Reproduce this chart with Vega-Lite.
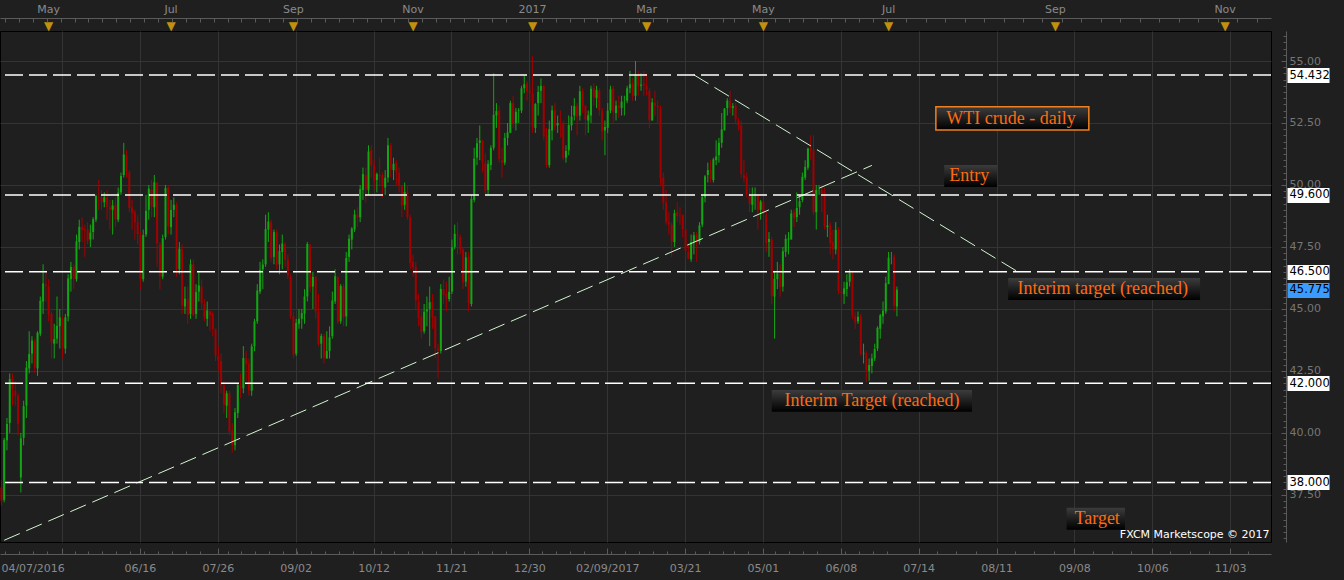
{
"$schema":"https://vega.github.io/schema/vega-lite/v6.json",
"width":1271,"height":511,
"autosize":"none",
"padding":{"left":0,"top":31,"right":73,"bottom":38},
"background":"#1f1f1f",
"config":{"view":{"stroke":"#000000","fill":"#1f1f1f","strokeWidth":1}},
"datasets":{
"candles":[
{"d":"2016-04-07","o":37.8,"h":38.1,"l":37.05,"c":37.26},
{"d":"2016-04-08","o":37.3,"h":39.8,"l":37.2,"c":39.72},
{"d":"2016-04-11","o":39.7,"h":40.6,"l":39.3,"c":40.36},
{"d":"2016-04-12","o":40.4,"h":42.4,"l":40.0,"c":42.17},
{"d":"2016-04-13","o":42.2,"h":42.4,"l":41.1,"c":41.76},
{"d":"2016-04-14","o":41.7,"h":42.1,"l":41.1,"c":41.5},
{"d":"2016-04-15","o":41.5,"h":41.6,"l":39.9,"c":40.36},
{"d":"2016-04-18","o":38.2,"h":40.0,"l":37.6,"c":39.78},
{"d":"2016-04-19","o":39.8,"h":41.3,"l":39.5,"c":41.08},
{"d":"2016-04-20","o":41.1,"h":42.9,"l":40.6,"c":42.63},
{"d":"2016-04-21","o":42.6,"h":44.1,"l":42.4,"c":43.18},
{"d":"2016-04-22","o":43.2,"h":43.9,"l":42.8,"c":43.73},
{"d":"2016-04-25","o":43.7,"h":43.8,"l":42.4,"c":42.64},
{"d":"2016-04-26","o":42.6,"h":44.1,"l":42.3,"c":44.04},
{"d":"2016-04-27","o":44.0,"h":45.5,"l":43.9,"c":45.33},
{"d":"2016-04-28","o":45.3,"h":46.8,"l":44.8,"c":46.03},
{"d":"2016-04-29","o":46.0,"h":46.5,"l":45.3,"c":45.92},
{"d":"2016-05-02","o":45.9,"h":46.2,"l":44.5,"c":44.78},
{"d":"2016-05-03","o":44.8,"h":44.9,"l":43.0,"c":43.65},
{"d":"2016-05-04","o":43.6,"h":44.4,"l":43.0,"c":43.78},
{"d":"2016-05-05","o":43.8,"h":45.5,"l":43.6,"c":44.32},
{"d":"2016-05-06","o":44.3,"h":45.0,"l":43.4,"c":44.66},
{"d":"2016-05-09","o":44.6,"h":44.7,"l":43.0,"c":43.44},
{"d":"2016-05-10","o":43.4,"h":44.8,"l":43.2,"c":44.66},
{"d":"2016-05-11","o":44.7,"h":46.4,"l":44.5,"c":46.23},
{"d":"2016-05-12","o":46.2,"h":46.9,"l":45.7,"c":46.7},
{"d":"2016-05-13","o":46.7,"h":46.8,"l":45.8,"c":46.21},
{"d":"2016-05-16","o":46.2,"h":48.0,"l":46.1,"c":47.72},
{"d":"2016-05-17","o":47.7,"h":48.6,"l":47.4,"c":48.31},
{"d":"2016-05-18","o":48.3,"h":48.7,"l":47.7,"c":48.19},
{"d":"2016-05-19","o":48.2,"h":48.4,"l":47.1,"c":48.16},
{"d":"2016-05-20","o":48.2,"h":48.5,"l":47.6,"c":47.75},
{"d":"2016-05-23","o":47.8,"h":48.4,"l":47.5,"c":48.08},
{"d":"2016-05-24","o":48.1,"h":48.7,"l":47.8,"c":48.62},
{"d":"2016-05-25","o":48.6,"h":49.6,"l":48.5,"c":49.56},
{"d":"2016-05-26","o":49.5,"h":50.2,"l":49.0,"c":49.48},
{"d":"2016-05-27","o":49.5,"h":49.8,"l":49.0,"c":49.33},
{"d":"2016-05-30","o":49.3,"h":49.7,"l":49.1,"c":49.5},
{"d":"2016-05-31","o":49.5,"h":49.8,"l":48.6,"c":49.1},
{"d":"2016-06-01","o":49.1,"h":49.4,"l":48.2,"c":49.01},
{"d":"2016-06-02","o":49.0,"h":49.4,"l":48.0,"c":49.17},
{"d":"2016-06-03","o":49.2,"h":49.5,"l":48.3,"c":48.62},
{"d":"2016-06-06","o":48.6,"h":49.9,"l":48.5,"c":49.69},
{"d":"2016-06-07","o":49.7,"h":50.5,"l":49.6,"c":50.36},
{"d":"2016-06-08","o":50.4,"h":51.7,"l":50.3,"c":51.23},
{"d":"2016-06-09","o":51.2,"h":51.4,"l":50.3,"c":50.56},
{"d":"2016-06-10","o":50.5,"h":50.6,"l":48.9,"c":49.07},
{"d":"2016-06-13","o":49.1,"h":49.4,"l":48.2,"c":48.88},
{"d":"2016-06-14","o":48.9,"h":49.0,"l":47.8,"c":48.49},
{"d":"2016-06-15","o":48.5,"h":48.8,"l":47.6,"c":48.01},
{"d":"2016-06-16","o":48.0,"h":48.1,"l":45.8,"c":46.21},
{"d":"2016-06-17","o":46.2,"h":48.2,"l":46.1,"c":47.98},
{"d":"2016-06-20","o":48.0,"h":49.6,"l":47.9,"c":48.96},
{"d":"2016-06-21","o":49.0,"h":50.0,"l":48.6,"c":49.85},
{"d":"2016-06-22","o":49.8,"h":50.2,"l":48.7,"c":49.13},
{"d":"2016-06-23","o":49.1,"h":50.4,"l":48.7,"c":50.11},
{"d":"2016-06-24","o":50.1,"h":50.1,"l":46.7,"c":47.64},
{"d":"2016-06-27","o":47.6,"h":47.7,"l":45.8,"c":46.33},
{"d":"2016-06-28","o":46.3,"h":48.0,"l":46.2,"c":47.85},
{"d":"2016-06-29","o":47.9,"h":50.0,"l":47.8,"c":49.88},
{"d":"2016-06-30","o":49.9,"h":50.0,"l":48.0,"c":48.33},
{"d":"2016-07-01","o":48.3,"h":49.4,"l":48.0,"c":48.99},
{"d":"2016-07-04","o":49.0,"h":49.5,"l":48.7,"c":49.2},
{"d":"2016-07-05","o":49.2,"h":49.3,"l":46.3,"c":46.6},
{"d":"2016-07-06","o":46.6,"h":47.7,"l":46.4,"c":47.43},
{"d":"2016-07-07","o":47.4,"h":47.6,"l":44.8,"c":45.14},
{"d":"2016-07-08","o":45.1,"h":45.9,"l":44.8,"c":45.41},
{"d":"2016-07-11","o":45.4,"h":45.9,"l":44.4,"c":44.76},
{"d":"2016-07-12","o":44.8,"h":47.0,"l":44.6,"c":46.8},
{"d":"2016-07-13","o":46.8,"h":47.0,"l":44.7,"c":44.75},
{"d":"2016-07-14","o":44.8,"h":46.0,"l":44.6,"c":45.68},
{"d":"2016-07-15","o":45.7,"h":46.5,"l":45.3,"c":45.95},
{"d":"2016-07-18","o":45.9,"h":46.2,"l":45.0,"c":45.24},
{"d":"2016-07-19","o":45.2,"h":45.4,"l":44.5,"c":44.65},
{"d":"2016-07-20","o":44.6,"h":45.3,"l":44.3,"c":44.94},
{"d":"2016-07-21","o":44.9,"h":45.0,"l":44.1,"c":44.75},
{"d":"2016-07-22","o":44.8,"h":44.9,"l":43.9,"c":44.19},
{"d":"2016-07-25","o":44.2,"h":44.2,"l":42.9,"c":43.13},
{"d":"2016-07-26","o":43.1,"h":43.5,"l":42.5,"c":42.92},
{"d":"2016-07-27","o":42.9,"h":43.2,"l":41.6,"c":41.92},
{"d":"2016-07-28","o":41.9,"h":42.1,"l":40.8,"c":41.14},
{"d":"2016-07-29","o":41.1,"h":41.7,"l":40.6,"c":41.6},
{"d":"2016-08-01","o":41.6,"h":41.7,"l":39.9,"c":40.06},
{"d":"2016-08-02","o":40.1,"h":40.4,"l":39.2,"c":39.51},
{"d":"2016-08-03","o":39.5,"h":41.0,"l":39.3,"c":40.83},
{"d":"2016-08-04","o":40.8,"h":42.0,"l":40.6,"c":41.93},
{"d":"2016-08-05","o":41.9,"h":42.4,"l":41.4,"c":41.8},
{"d":"2016-08-08","o":41.8,"h":43.5,"l":41.6,"c":43.02},
{"d":"2016-08-09","o":43.0,"h":43.3,"l":42.1,"c":42.77},
{"d":"2016-08-10","o":42.8,"h":43.0,"l":41.5,"c":41.71},
{"d":"2016-08-11","o":41.7,"h":43.6,"l":41.5,"c":43.49},
{"d":"2016-08-12","o":43.5,"h":44.6,"l":43.3,"c":44.49},
{"d":"2016-08-15","o":44.5,"h":46.0,"l":44.4,"c":45.74},
{"d":"2016-08-16","o":45.7,"h":46.9,"l":45.6,"c":46.58},
{"d":"2016-08-17","o":46.6,"h":47.0,"l":45.8,"c":46.79},
{"d":"2016-08-18","o":46.8,"h":48.8,"l":46.7,"c":48.22},
{"d":"2016-08-19","o":48.2,"h":48.9,"l":47.7,"c":48.52},
{"d":"2016-08-22","o":48.5,"h":48.6,"l":46.9,"c":47.05},
{"d":"2016-08-23","o":47.1,"h":48.2,"l":46.8,"c":48.1},
{"d":"2016-08-24","o":48.1,"h":48.2,"l":46.6,"c":46.77},
{"d":"2016-08-25","o":46.8,"h":47.6,"l":46.4,"c":47.33},
{"d":"2016-08-26","o":47.3,"h":48.0,"l":46.6,"c":47.64},
{"d":"2016-08-29","o":47.6,"h":47.7,"l":46.7,"c":46.98},
{"d":"2016-08-30","o":47.0,"h":47.2,"l":46.2,"c":46.35},
{"d":"2016-08-31","o":46.3,"h":46.4,"l":44.6,"c":44.7},
{"d":"2016-09-01","o":44.7,"h":44.9,"l":43.0,"c":43.16},
{"d":"2016-09-02","o":43.2,"h":44.6,"l":43.1,"c":44.44},
{"d":"2016-09-05","o":44.4,"h":45.0,"l":44.2,"c":44.6},
{"d":"2016-09-06","o":44.6,"h":45.0,"l":44.2,"c":44.83},
{"d":"2016-09-07","o":44.8,"h":45.8,"l":44.4,"c":45.5},
{"d":"2016-09-08","o":45.5,"h":47.7,"l":45.3,"c":47.62},
{"d":"2016-09-09","o":47.6,"h":47.6,"l":45.7,"c":45.88},
{"d":"2016-09-12","o":45.9,"h":46.5,"l":45.0,"c":46.29},
{"d":"2016-09-13","o":46.3,"h":46.3,"l":44.6,"c":44.9},
{"d":"2016-09-14","o":44.9,"h":45.6,"l":43.5,"c":43.58},
{"d":"2016-09-15","o":43.6,"h":44.0,"l":43.0,"c":43.91},
{"d":"2016-09-16","o":43.9,"h":44.0,"l":42.8,"c":43.03},
{"d":"2016-09-19","o":43.0,"h":44.1,"l":43.0,"c":43.3},
{"d":"2016-09-20","o":43.3,"h":44.3,"l":43.0,"c":43.85},
{"d":"2016-09-21","o":43.9,"h":45.7,"l":43.8,"c":45.34},
{"d":"2016-09-22","o":45.3,"h":46.6,"l":45.2,"c":46.32},
{"d":"2016-09-23","o":46.3,"h":46.3,"l":44.4,"c":44.48},
{"d":"2016-09-26","o":44.5,"h":46.0,"l":44.4,"c":45.93},
{"d":"2016-09-27","o":45.9,"h":46.0,"l":44.3,"c":44.67},
{"d":"2016-09-28","o":44.7,"h":47.3,"l":44.3,"c":47.05},
{"d":"2016-09-29","o":47.1,"h":48.0,"l":46.9,"c":47.83},
{"d":"2016-09-30","o":47.8,"h":48.3,"l":47.4,"c":48.24},
{"d":"2016-10-03","o":48.2,"h":49.0,"l":48.1,"c":48.81},
{"d":"2016-10-04","o":48.8,"h":49.1,"l":48.3,"c":48.69},
{"d":"2016-10-05","o":48.7,"h":50.0,"l":48.5,"c":49.83},
{"d":"2016-10-06","o":49.8,"h":50.7,"l":49.4,"c":50.44},
{"d":"2016-10-07","o":50.4,"h":50.7,"l":49.3,"c":49.81},
{"d":"2016-10-10","o":49.8,"h":51.6,"l":49.6,"c":51.35},
{"d":"2016-10-11","o":51.4,"h":51.6,"l":50.3,"c":50.79},
{"d":"2016-10-12","o":50.8,"h":51.0,"l":49.8,"c":50.18},
{"d":"2016-10-13","o":50.2,"h":50.5,"l":49.7,"c":50.44},
{"d":"2016-10-14","o":50.4,"h":51.1,"l":50.0,"c":50.35},
{"d":"2016-10-17","o":50.4,"h":50.5,"l":49.5,"c":49.94},
{"d":"2016-10-18","o":49.9,"h":50.6,"l":49.6,"c":50.29},
{"d":"2016-10-19","o":50.3,"h":51.9,"l":50.1,"c":51.6},
{"d":"2016-10-20","o":51.6,"h":51.7,"l":50.3,"c":50.63},
{"d":"2016-10-21","o":50.6,"h":51.1,"l":50.2,"c":50.85},
{"d":"2016-10-24","o":50.9,"h":51.0,"l":50.0,"c":50.52},
{"d":"2016-10-25","o":50.5,"h":50.7,"l":49.7,"c":49.96},
{"d":"2016-10-26","o":50.0,"h":50.0,"l":48.7,"c":49.18},
{"d":"2016-10-27","o":49.2,"h":50.1,"l":49.0,"c":49.72},
{"d":"2016-10-28","o":49.7,"h":50.0,"l":48.6,"c":48.7},
{"d":"2016-10-31","o":48.7,"h":48.8,"l":46.6,"c":46.86},
{"d":"2016-11-01","o":46.9,"h":47.2,"l":46.3,"c":46.67},
{"d":"2016-11-02","o":46.7,"h":46.9,"l":45.0,"c":45.34},
{"d":"2016-11-03","o":45.3,"h":45.6,"l":44.3,"c":44.66},
{"d":"2016-11-04","o":44.7,"h":45.0,"l":43.8,"c":44.07},
{"d":"2016-11-07","o":44.1,"h":45.2,"l":44.0,"c":44.89},
{"d":"2016-11-08","o":44.9,"h":45.5,"l":44.3,"c":44.98},
{"d":"2016-11-09","o":45.0,"h":45.9,"l":43.5,"c":45.27},
{"d":"2016-11-10","o":45.3,"h":45.6,"l":44.2,"c":44.66},
{"d":"2016-11-11","o":44.7,"h":44.7,"l":43.0,"c":43.41},
{"d":"2016-11-14","o":43.4,"h":43.6,"l":42.2,"c":43.32},
{"d":"2016-11-15","o":43.3,"h":46.0,"l":43.2,"c":45.81},
{"d":"2016-11-16","o":45.8,"h":46.2,"l":45.2,"c":45.57},
{"d":"2016-11-17","o":45.6,"h":46.1,"l":44.9,"c":45.42},
{"d":"2016-11-18","o":45.4,"h":46.3,"l":45.3,"c":45.69},
{"d":"2016-11-21","o":45.7,"h":47.8,"l":45.6,"c":47.49},
{"d":"2016-11-22","o":47.5,"h":48.4,"l":47.4,"c":48.03},
{"d":"2016-11-23","o":48.0,"h":48.5,"l":47.2,"c":47.96},
{"d":"2016-11-24","o":47.9,"h":48.0,"l":47.2,"c":47.4},
{"d":"2016-11-25","o":47.4,"h":47.5,"l":45.8,"c":46.06},
{"d":"2016-11-28","o":46.1,"h":47.3,"l":45.9,"c":47.08},
{"d":"2016-11-29","o":47.1,"h":47.3,"l":44.9,"c":45.23},
{"d":"2016-11-30","o":45.2,"h":49.6,"l":45.1,"c":49.44},
{"d":"2016-12-01","o":49.4,"h":51.5,"l":49.3,"c":51.06},
{"d":"2016-12-02","o":51.1,"h":51.9,"l":50.8,"c":51.68},
{"d":"2016-12-05","o":51.7,"h":52.4,"l":51.0,"c":51.79},
{"d":"2016-12-06","o":51.8,"h":51.8,"l":50.5,"c":50.93},
{"d":"2016-12-07","o":50.9,"h":51.3,"l":49.6,"c":49.77},
{"d":"2016-12-08","o":49.8,"h":51.0,"l":49.6,"c":50.84},
{"d":"2016-12-09","o":50.8,"h":51.6,"l":50.6,"c":51.5},
{"d":"2016-12-12","o":51.5,"h":54.5,"l":51.4,"c":52.83},
{"d":"2016-12-13","o":52.8,"h":53.3,"l":52.3,"c":52.98},
{"d":"2016-12-14","o":53.0,"h":53.2,"l":50.9,"c":51.04},
{"d":"2016-12-15","o":51.0,"h":51.5,"l":50.3,"c":50.9},
{"d":"2016-12-16","o":50.9,"h":52.1,"l":50.8,"c":51.9},
{"d":"2016-12-19","o":51.9,"h":52.5,"l":51.6,"c":52.12},
{"d":"2016-12-20","o":52.1,"h":53.4,"l":52.1,"c":53.3},
{"d":"2016-12-21","o":53.3,"h":53.6,"l":52.3,"c":52.49},
{"d":"2016-12-22","o":52.5,"h":53.1,"l":52.2,"c":52.95},
{"d":"2016-12-23","o":53.0,"h":53.1,"l":52.5,"c":53.02},
{"d":"2016-12-27","o":53.0,"h":54.0,"l":52.9,"c":53.9},
{"d":"2016-12-28","o":53.9,"h":54.4,"l":53.7,"c":54.06},
{"d":"2016-12-29","o":54.1,"h":54.2,"l":53.4,"c":53.77},
{"d":"2016-12-30","o":53.8,"h":54.1,"l":53.3,"c":53.72},
{"d":"2017-01-03","o":53.7,"h":55.2,"l":52.1,"c":52.33},
{"d":"2017-01-04","o":52.3,"h":53.3,"l":52.1,"c":53.26},
{"d":"2017-01-05","o":53.3,"h":54.0,"l":52.8,"c":53.76},
{"d":"2017-01-06","o":53.8,"h":54.3,"l":53.3,"c":53.99},
{"d":"2017-01-09","o":54.0,"h":54.0,"l":51.8,"c":51.96},
{"d":"2017-01-10","o":52.0,"h":52.3,"l":50.7,"c":50.82},
{"d":"2017-01-11","o":50.8,"h":52.6,"l":50.7,"c":52.25},
{"d":"2017-01-12","o":52.2,"h":53.2,"l":51.8,"c":53.01},
{"d":"2017-01-13","o":53.0,"h":53.3,"l":52.2,"c":52.37},
{"d":"2017-01-16","o":52.4,"h":52.8,"l":52.1,"c":52.5},
{"d":"2017-01-17","o":52.5,"h":53.0,"l":51.9,"c":52.48},
{"d":"2017-01-18","o":52.5,"h":52.6,"l":51.0,"c":51.08},
{"d":"2017-01-19","o":51.1,"h":51.6,"l":50.9,"c":51.37},
{"d":"2017-01-20","o":51.4,"h":52.8,"l":51.2,"c":52.42},
{"d":"2017-01-23","o":52.4,"h":53.2,"l":52.2,"c":52.75},
{"d":"2017-01-24","o":52.8,"h":53.5,"l":52.6,"c":53.18},
{"d":"2017-01-25","o":53.2,"h":53.3,"l":52.0,"c":52.75},
{"d":"2017-01-26","o":52.8,"h":54.0,"l":52.6,"c":53.78},
{"d":"2017-01-27","o":53.8,"h":53.9,"l":52.9,"c":53.17},
{"d":"2017-01-30","o":53.2,"h":53.2,"l":52.0,"c":52.63},
{"d":"2017-01-31","o":52.6,"h":53.0,"l":52.1,"c":52.81},
{"d":"2017-02-01","o":52.8,"h":54.0,"l":52.5,"c":53.88},
{"d":"2017-02-02","o":53.9,"h":54.1,"l":53.2,"c":53.54},
{"d":"2017-02-03","o":53.5,"h":54.0,"l":53.1,"c":53.83},
{"d":"2017-02-06","o":53.8,"h":53.9,"l":52.8,"c":53.01},
{"d":"2017-02-07","o":53.0,"h":53.1,"l":51.8,"c":52.17},
{"d":"2017-02-08","o":52.2,"h":52.6,"l":51.2,"c":52.34},
{"d":"2017-02-09","o":52.3,"h":53.3,"l":52.1,"c":53.0},
{"d":"2017-02-10","o":53.0,"h":54.0,"l":52.9,"c":53.86},
{"d":"2017-02-13","o":53.9,"h":54.0,"l":52.5,"c":52.93},
{"d":"2017-02-14","o":52.9,"h":53.4,"l":52.6,"c":53.2},
{"d":"2017-02-15","o":53.2,"h":53.6,"l":52.7,"c":53.11},
{"d":"2017-02-16","o":53.1,"h":53.6,"l":52.8,"c":53.36},
{"d":"2017-02-17","o":53.4,"h":53.6,"l":52.8,"c":53.4},
{"d":"2017-02-20","o":53.4,"h":54.0,"l":53.3,"c":53.9},
{"d":"2017-02-21","o":53.9,"h":54.6,"l":53.7,"c":54.06},
{"d":"2017-02-22","o":54.1,"h":54.3,"l":53.4,"c":53.59},
{"d":"2017-02-23","o":53.6,"h":55.0,"l":53.4,"c":54.45},
{"d":"2017-02-24","o":54.4,"h":54.6,"l":53.6,"c":53.99},
{"d":"2017-02-27","o":54.0,"h":54.5,"l":53.8,"c":54.05},
{"d":"2017-02-28","o":54.1,"h":54.6,"l":53.6,"c":54.01},
{"d":"2017-03-01","o":54.0,"h":54.5,"l":53.6,"c":53.83},
{"d":"2017-03-02","o":53.8,"h":53.9,"l":52.3,"c":52.61},
{"d":"2017-03-03","o":52.6,"h":53.5,"l":52.6,"c":53.33},
{"d":"2017-03-06","o":53.3,"h":53.8,"l":52.8,"c":53.2},
{"d":"2017-03-07","o":53.2,"h":53.4,"l":52.5,"c":53.14},
{"d":"2017-03-08","o":53.1,"h":53.2,"l":50.0,"c":50.28},
{"d":"2017-03-09","o":50.3,"h":50.5,"l":49.0,"c":49.28},
{"d":"2017-03-10","o":49.3,"h":49.8,"l":48.4,"c":48.49},
{"d":"2017-03-13","o":48.5,"h":48.9,"l":48.0,"c":48.4},
{"d":"2017-03-14","o":48.4,"h":48.5,"l":47.1,"c":47.72},
{"d":"2017-03-15","o":47.7,"h":49.0,"l":47.5,"c":48.86},
{"d":"2017-03-16","o":48.9,"h":49.3,"l":48.5,"c":48.75},
{"d":"2017-03-17","o":48.8,"h":49.1,"l":48.4,"c":48.78},
{"d":"2017-03-20","o":48.8,"h":48.8,"l":47.9,"c":48.22},
{"d":"2017-03-21","o":48.2,"h":48.5,"l":47.1,"c":47.34},
{"d":"2017-03-22","o":47.3,"h":47.6,"l":47.0,"c":47.04},
{"d":"2017-03-23","o":47.0,"h":48.0,"l":46.9,"c":47.7},
{"d":"2017-03-24","o":47.7,"h":48.1,"l":47.2,"c":47.97},
{"d":"2017-03-27","o":48.0,"h":48.1,"l":46.9,"c":47.73},
{"d":"2017-03-28","o":47.7,"h":48.5,"l":47.6,"c":48.37},
{"d":"2017-03-29","o":48.4,"h":49.6,"l":48.3,"c":49.51},
{"d":"2017-03-30","o":49.5,"h":50.4,"l":49.3,"c":50.35},
{"d":"2017-03-31","o":50.4,"h":50.9,"l":50.1,"c":50.6},
{"d":"2017-04-03","o":50.6,"h":51.0,"l":50.1,"c":50.24},
{"d":"2017-04-04","o":50.2,"h":51.1,"l":50.1,"c":51.03},
{"d":"2017-04-05","o":51.0,"h":51.8,"l":50.8,"c":51.15},
{"d":"2017-04-06","o":51.2,"h":51.9,"l":50.9,"c":51.7},
{"d":"2017-04-07","o":51.7,"h":52.9,"l":51.5,"c":52.24},
{"d":"2017-04-10","o":52.2,"h":53.1,"l":52.2,"c":53.08},
{"d":"2017-04-11","o":53.1,"h":53.5,"l":52.8,"c":53.4},
{"d":"2017-04-12","o":53.4,"h":53.8,"l":52.9,"c":53.11},
{"d":"2017-04-13","o":53.1,"h":53.3,"l":52.8,"c":53.18},
{"d":"2017-04-17","o":53.2,"h":53.3,"l":52.5,"c":52.65},
{"d":"2017-04-18","o":52.6,"h":52.7,"l":52.2,"c":52.41},
{"d":"2017-04-19","o":52.4,"h":52.6,"l":50.3,"c":50.44},
{"d":"2017-04-20","o":50.4,"h":51.0,"l":50.1,"c":50.27},
{"d":"2017-04-21","o":50.3,"h":50.5,"l":49.5,"c":49.62},
{"d":"2017-04-24","o":49.6,"h":49.9,"l":48.9,"c":49.23},
{"d":"2017-04-25","o":49.2,"h":49.9,"l":48.9,"c":49.56},
{"d":"2017-04-26","o":49.6,"h":49.9,"l":49.0,"c":49.62},
{"d":"2017-04-27","o":49.6,"h":49.6,"l":48.2,"c":48.97},
{"d":"2017-04-28","o":49.0,"h":49.4,"l":48.6,"c":49.33},
{"d":"2017-05-01","o":49.3,"h":49.5,"l":48.5,"c":48.84},
{"d":"2017-05-02","o":48.8,"h":48.9,"l":47.3,"c":47.66},
{"d":"2017-05-03","o":47.7,"h":48.1,"l":47.1,"c":47.82},
{"d":"2017-05-04","o":47.8,"h":47.9,"l":45.2,"c":45.52},
{"d":"2017-05-05","o":45.5,"h":46.5,"l":43.8,"c":46.22},
{"d":"2017-05-08","o":46.2,"h":46.9,"l":45.8,"c":46.43},
{"d":"2017-05-09","o":46.4,"h":46.8,"l":45.5,"c":45.88},
{"d":"2017-05-10","o":45.9,"h":47.5,"l":45.7,"c":47.33},
{"d":"2017-05-11","o":47.3,"h":48.0,"l":47.1,"c":47.83},
{"d":"2017-05-12","o":47.8,"h":48.1,"l":47.2,"c":47.84},
{"d":"2017-05-15","o":47.8,"h":49.0,"l":47.8,"c":48.85},
{"d":"2017-05-16","o":48.9,"h":49.0,"l":48.3,"c":48.66},
{"d":"2017-05-17","o":48.7,"h":49.7,"l":48.5,"c":49.07},
{"d":"2017-05-18","o":49.1,"h":49.6,"l":48.8,"c":49.35},
{"d":"2017-05-19","o":49.4,"h":50.5,"l":49.3,"c":50.33},
{"d":"2017-05-22","o":50.3,"h":51.0,"l":50.2,"c":50.73},
{"d":"2017-05-23","o":50.7,"h":51.5,"l":50.6,"c":51.47},
{"d":"2017-05-24","o":51.5,"h":52.0,"l":51.0,"c":51.36},
{"d":"2017-05-25","o":51.4,"h":52.0,"l":48.8,"c":48.9},
{"d":"2017-05-26","o":48.9,"h":50.0,"l":48.2,"c":49.8},
{"d":"2017-05-29","o":49.8,"h":50.0,"l":49.6,"c":49.8},
{"d":"2017-05-30","o":49.8,"h":50.0,"l":48.9,"c":49.66},
{"d":"2017-05-31","o":49.7,"h":49.9,"l":48.2,"c":48.32},
{"d":"2017-06-01","o":48.3,"h":48.8,"l":47.9,"c":48.36},
{"d":"2017-06-02","o":48.4,"h":48.5,"l":47.2,"c":47.66},
{"d":"2017-06-05","o":47.7,"h":48.2,"l":47.0,"c":47.4},
{"d":"2017-06-06","o":47.4,"h":48.5,"l":47.2,"c":48.19},
{"d":"2017-06-07","o":48.2,"h":48.3,"l":45.6,"c":45.72},
{"d":"2017-06-08","o":45.7,"h":46.0,"l":45.2,"c":45.64},
{"d":"2017-06-09","o":45.6,"h":46.1,"l":45.2,"c":45.83},
{"d":"2017-06-12","o":45.8,"h":46.4,"l":45.5,"c":46.08},
{"d":"2017-06-13","o":46.1,"h":46.6,"l":45.9,"c":46.46},
{"d":"2017-06-14","o":46.5,"h":46.5,"l":44.6,"c":44.73},
{"d":"2017-06-15","o":44.7,"h":44.9,"l":44.2,"c":44.46},
{"d":"2017-06-16","o":44.5,"h":44.9,"l":44.4,"c":44.68},
{"d":"2017-06-19","o":44.7,"h":44.8,"l":43.1,"c":43.2},
{"d":"2017-06-20","o":43.2,"h":43.6,"l":42.8,"c":43.23},
{"d":"2017-06-21","o":43.2,"h":43.3,"l":42.05,"c":42.53},
{"d":"2017-06-22","o":42.5,"h":43.0,"l":42.1,"c":42.74},
{"d":"2017-06-23","o":42.7,"h":43.2,"l":42.4,"c":43.01},
{"d":"2017-06-26","o":43.0,"h":43.6,"l":42.9,"c":43.38},
{"d":"2017-06-27","o":43.4,"h":44.3,"l":43.3,"c":44.24},
{"d":"2017-06-28","o":44.2,"h":44.8,"l":43.8,"c":44.74},
{"d":"2017-06-29","o":44.7,"h":45.3,"l":44.4,"c":44.93},
{"d":"2017-06-30","o":44.9,"h":46.3,"l":44.8,"c":46.04},
{"d":"2017-07-03","o":46.0,"h":47.3,"l":46.0,"c":47.07},
{"d":"2017-07-04","o":47.1,"h":47.3,"l":46.8,"c":47.1},
{"d":"2017-07-05","o":47.1,"h":47.2,"l":44.9,"c":45.13},
{"d":"2017-07-06","o":45.1,"h":45.9,"l":44.7,"c":45.775}
],
"future":[
{"d":"2017-07-07"},{"d":"2017-07-08"},{"d":"2017-07-09"},{"d":"2017-07-10"},{"d":"2017-07-11"},{"d":"2017-07-12"},{"d":"2017-07-13"},{"d":"2017-07-14"},{"d":"2017-07-15"},{"d":"2017-07-16"},{"d":"2017-07-17"},{"d":"2017-07-18"},{"d":"2017-07-19"},{"d":"2017-07-20"},{"d":"2017-07-21"},{"d":"2017-07-22"},{"d":"2017-07-23"},{"d":"2017-07-24"},{"d":"2017-07-25"},{"d":"2017-07-26"},{"d":"2017-07-27"},{"d":"2017-07-28"},{"d":"2017-07-29"},{"d":"2017-07-30"},{"d":"2017-07-31"},
{"d":"2017-08-01"},{"d":"2017-08-02"},{"d":"2017-08-03"},{"d":"2017-08-04"},{"d":"2017-08-05"},{"d":"2017-08-06"},{"d":"2017-08-07"},{"d":"2017-08-08"},{"d":"2017-08-09"},{"d":"2017-08-10"},{"d":"2017-08-11"},{"d":"2017-08-12"},{"d":"2017-08-13"},{"d":"2017-08-14"},{"d":"2017-08-15"},{"d":"2017-08-16"},{"d":"2017-08-17"},{"d":"2017-08-18"},{"d":"2017-08-19"},{"d":"2017-08-20"},{"d":"2017-08-21"},{"d":"2017-08-22"},{"d":"2017-08-23"},{"d":"2017-08-24"},{"d":"2017-08-25"},{"d":"2017-08-26"},{"d":"2017-08-27"},{"d":"2017-08-28"},{"d":"2017-08-29"},{"d":"2017-08-30"},{"d":"2017-08-31"},
{"d":"2017-09-01"},{"d":"2017-09-02"},{"d":"2017-09-03"},{"d":"2017-09-04"},{"d":"2017-09-05"},{"d":"2017-09-06"},{"d":"2017-09-07"},{"d":"2017-09-08"},{"d":"2017-09-09"},{"d":"2017-09-10"},{"d":"2017-09-11"},{"d":"2017-09-12"},{"d":"2017-09-13"},{"d":"2017-09-14"},{"d":"2017-09-15"},{"d":"2017-09-16"},{"d":"2017-09-17"},{"d":"2017-09-18"},{"d":"2017-09-19"},{"d":"2017-09-20"},{"d":"2017-09-21"},{"d":"2017-09-22"},{"d":"2017-09-23"},{"d":"2017-09-24"},{"d":"2017-09-25"},{"d":"2017-09-26"},{"d":"2017-09-27"},{"d":"2017-09-28"},{"d":"2017-09-29"},{"d":"2017-09-30"},
{"d":"2017-10-01"},{"d":"2017-10-02"},{"d":"2017-10-03"},{"d":"2017-10-04"},{"d":"2017-10-05"},{"d":"2017-10-06"},{"d":"2017-10-07"},{"d":"2017-10-08"},{"d":"2017-10-09"},{"d":"2017-10-10"},{"d":"2017-10-11"},{"d":"2017-10-12"},{"d":"2017-10-13"},{"d":"2017-10-14"},{"d":"2017-10-15"},{"d":"2017-10-16"},{"d":"2017-10-17"},{"d":"2017-10-18"},{"d":"2017-10-19"},{"d":"2017-10-20"},{"d":"2017-10-21"},{"d":"2017-10-22"},{"d":"2017-10-23"},{"d":"2017-10-24"},{"d":"2017-10-25"},{"d":"2017-10-26"},{"d":"2017-10-27"},{"d":"2017-10-28"},{"d":"2017-10-29"},{"d":"2017-10-30"},{"d":"2017-10-31"},
{"d":"2017-11-01"},{"d":"2017-11-02"},{"d":"2017-11-03"},{"d":"2017-11-04"},{"d":"2017-11-05"},{"d":"2017-11-06"},{"d":"2017-11-07"},{"d":"2017-11-08"},{"d":"2017-11-09"},{"d":"2017-11-10"},{"d":"2017-11-11"},{"d":"2017-11-12"},{"d":"2017-11-13"},{"d":"2017-11-14"},{"d":"2017-11-15"},{"d":"2017-11-16"},{"d":"2017-11-17"}
],
"levels":[{"v":54.432},{"v":49.6},{"v":46.5},{"v":42},{"v":38}],
"trend":[
{"id":"support","d":"2016-04-08","v":35.67},
{"id":"support","d":"2017-06-23","v":50.79},
{"id":"resistance","d":"2017-03-24","v":54.44},
{"id":"resistance","d":"2017-08-18","v":46.53}
],
"notes":[
{"t":"WTI crude - daily","d":"2017-08-16","v":52.66,"d1":"2017-07-20","d2":"2017-09-13","v1":53.15,"v2":52.22},
{"t":"Entry","d":"2017-08-01","v":50.36,"d1":"2017-07-23","d2":"2017-08-11","v1":50.81,"v2":49.92},
{"t":"Interim target (reached)","d":"2017-09-18","v":45.81,"d1":"2017-08-15","d2":"2017-10-23","v1":46.25,"v2":45.36},
{"t":"Interim Target (reached)","d":"2017-06-23","v":41.29,"d1":"2017-05-04","d2":"2017-08-02","v1":41.73,"v2":40.85},
{"t":"Target","d":"2017-09-16","v":36.53,"d1":"2017-09-05","d2":"2017-09-26","v1":36.98,"v2":36.09}
],
"credit":[{"t":"FXCM Marketscope © 2017","d":"2017-11-17","v":35.89}]
},
"resolve":{"axis":{"x":"independent","y":"independent"}},
"layer":[
{"data":{"name":"future"},"mark":{"type":"point","opacity":0},
 "encoding":{"x":{"field":"d","type":"ordinal","scale":{"type":"band","paddingInner":0,"paddingOuter":0},
  "axis":{"orient":"bottom","offset":12,"title":null,"bandPosition":0.5,"labelAngle":0,
   "values":["2016-04-07","2016-05-09","2016-06-16","2016-07-26","2016-09-02","2016-10-12","2016-11-21","2016-12-30","2017-02-09","2017-03-21","2017-05-01","2017-06-08","2017-07-14","2017-08-11","2017-09-08","2017-10-06","2017-11-03"],
   "labelExpr":"datum.value == '2016-04-07' ? '04/07/2016' : datum.value == '2016-05-09' ? '' : datum.value == '2017-02-09' ? '02/09/2017' : slice(datum.value,5,7) + '/' + slice(datum.value,8,10)",
   "labelAlign":{"condition":{"test":"datum.value == '2016-04-07'","value":"left"},"value":"center"},
   "grid":true,"gridColor":{"condition":{"test":"datum.value == '2016-04-07'","value":"transparent"},"value":"#343434"},
   "tickColor":{"condition":{"test":"datum.value == '2016-04-07'","value":"transparent"},"value":"#5a5a5a"},
   "domainColor":"#5a5a5a","tickSize":-6,"labelPadding":14,"labelColor":"#8a8a8a","labelFont":"DejaVu Sans","labelFontSize":11,"labelOverlap":false,"labelBound":false}}}},
{"data":{"name":"candles"},"mark":{"type":"rule","strokeWidth":1},
 "encoding":{
  "x":{"field":"d","type":"ordinal","scale":{"type":"band","paddingInner":0,"paddingOuter":0},
   "axis":{"orient":"top","offset":13,"title":null,"bandPosition":0,"labelAngle":0,
    "values":["2016-05-02","2016-07-01","2016-09-01","2016-11-01","2017-01-03","2017-03-01","2017-05-01","2017-07-03","2017-09-01","2017-11-01"],
    "labelExpr":"slice(datum.value,5,7) == '01' ? '2017' : slice(datum.value,5,7) == '03' ? 'Mar' : slice(datum.value,5,7) == '05' ? 'May' : slice(datum.value,5,7) == '07' ? 'Jul' : slice(datum.value,5,7) == '09' ? 'Sep' : 'Nov'",
    "ticks":false,"domainColor":"#5a5a5a","labelPadding":4,"labelAlign":"center","labelColor":"#8a8a8a","labelFont":"DejaVu Sans","labelFontSize":11,"grid":false,"labelOverlap":false,"labelBound":false}},
  "y":{"field":"l","type":"quantitative","scale":{"domain":[35.6,56.21],"nice":false,"zero":false},
   "axis":{"orient":"right","offset":15,"title":null,"values":[37.5,40,42.5,45,47.5,50,52.5,55],"format":".2f","grid":true,"gridColor":"#343434","domainColor":"#5a5a5a","tickColor":"#5a5a5a","tickSize":-5,"labelPadding":8,"labelColor":"#767676","labelFont":"DejaVu Sans","labelFontSize":11,"labelOverlap":false,"labelBound":false}},
  "y2":{"field":"h"},
  "color":{"condition":{"test":"datum.c >= datum.o","value":"#12a612"},"value":"#a30000"}}},
{"data":{"name":"candles"},"mark":{"type":"bar","width":2},
 "encoding":{
  "x":{"field":"d","type":"ordinal","scale":{"type":"band","paddingInner":0,"paddingOuter":0},
   "axis":{"orient":"top","offset":0,"title":null,"bandPosition":0,"labelAngle":0,"labelAlign":"center",
    "values":["2016-05-02","2016-07-01","2016-09-01","2016-11-01","2017-01-03","2017-03-01","2017-05-01","2017-07-03","2017-09-01","2017-11-01"],
    "labelExpr":"'▼'","domain":false,"ticks":false,"grid":false,"labelPadding":2,"labelBaseline":"alphabetic","labelColor":"#c09010","labelFont":"DejaVu Sans","labelFontSize":12,"labelOverlap":false,"labelBound":false}},
  "y":{"field":"o","type":"quantitative","scale":{"domain":[35.6,56.21],"nice":false,"zero":false},
   "axis":{"orient":"right","offset":15,"title":null,"labels":false,"domain":false,"grid":false,"tickColor":"#5a5a5a","tickSize":-3,
    "values":[35.75,36,36.25,36.5,36.75,37,37.25,37.75,38,38.25,38.5,38.75,39,39.25,39.5,39.75,40.25,40.5,40.75,41,41.25,41.5,41.75,42,42.25,42.75,43,43.25,43.5,43.75,44,44.25,44.5,44.75,45.25,45.5,45.75,46,46.25,46.5,46.75,47,47.25,47.75,48,48.25,48.5,48.75,49,49.25,49.5,49.75,50.25,50.5,50.75,51,51.25,51.5,51.75,52,52.25,52.75,53,53.25,53.5,53.75,54,54.25,54.5,54.75,55.25,55.5,55.75,56]}},
  "y2":{"field":"c"},
  "color":{"condition":{"test":"datum.c >= datum.o","value":"#12a612"},"value":"#a30000"}}},
{"data":{"name":"trend"},"mark":{"type":"line","strokeWidth":1,"strokeDash":[17,7],"color":"#d2f5d2"},
 "encoding":{
  "x":{"field":"d","type":"ordinal","scale":{"type":"band","paddingInner":0,"paddingOuter":0},
   "axis":{"orient":"top","offset":13,"title":null,"labels":false,"domain":false,"grid":false,"tickColor":"#5a5a5a","tickSize":-4,"bandPosition":0,
    "values":["2016-04-11","2016-04-18","2016-04-25","2016-05-02","2016-05-09","2016-05-16","2016-05-23","2016-05-30","2016-06-06","2016-06-13","2016-06-20","2016-06-27","2016-07-04","2016-07-11","2016-07-18","2016-07-25","2016-08-01","2016-08-08","2016-08-15","2016-08-22","2016-08-29","2016-09-05","2016-09-12","2016-09-19","2016-09-26","2016-10-03","2016-10-10","2016-10-17","2016-10-24","2016-10-31","2016-11-07","2016-11-14","2016-11-21","2016-11-28","2016-12-05","2016-12-12","2016-12-19","2017-01-09","2017-01-16","2017-01-23","2017-01-30","2017-02-06","2017-02-13","2017-02-20","2017-02-27","2017-03-06","2017-03-13","2017-03-20","2017-03-27","2017-04-03","2017-04-10","2017-04-17","2017-04-24","2017-05-01","2017-05-08","2017-05-15","2017-05-22","2017-05-29","2017-06-05","2017-06-12","2017-06-19","2017-06-26","2017-07-03","2017-07-10","2017-07-17","2017-07-24","2017-07-31","2017-08-07","2017-08-14","2017-08-21","2017-08-28","2017-09-04","2017-09-11","2017-09-18","2017-09-25","2017-10-02","2017-10-09","2017-10-16","2017-10-23","2017-10-30","2017-11-06","2017-11-13"]}},
  "y":{"field":"v","type":"quantitative","scale":{"domain":[35.6,56.21],"nice":false,"zero":false},"axis":null},
  "detail":{"field":"id"}}},
{"data":{"name":"levels"},"mark":{"type":"rule","color":"#ffffff","strokeWidth":1.5,"strokeDash":[18,6]},
 "encoding":{
  "y":{"field":"v","type":"quantitative","scale":{"domain":[35.6,56.21],"nice":false,"zero":false},
   "axis":{"orient":"right","offset":16,"title":null,"values":[54.432,49.6,46.5,45.775,42,38],"format":".3f","domain":false,"grid":false,
    "tickSize":42,"tickWidth":15,"tickColor":{"condition":{"test":"datum.value == 45.775","value":"#3b9cff"},"value":"#ffffff"},
    "labelPadding":-40,"labelColor":"#000000","labelFont":"DejaVu Sans","labelFontSize":11.5,"labelOverlap":false,"labelBound":false}}}},
{"data":{"name":"notes"},"mark":{"type":"rect","strokeWidth":1.5,
  "fill":{"gradient":"linear","x1":0,"y1":0,"x2":0,"y2":1,"stops":[{"offset":0,"color":"#3c3c3c"},{"offset":1,"color":"#000000"}]}},
 "encoding":{
  "x":{"field":"d1","type":"ordinal","scale":{"type":"band","paddingInner":0,"paddingOuter":0},
   "axis":{"orient":"bottom","offset":12,"title":null,"labels":false,"domain":false,"grid":false,"tickColor":"#5a5a5a","tickSize":-3,"bandPosition":0,
    "values":["2016-04-11","2016-04-18","2016-04-25","2016-05-02","2016-05-16","2016-05-23","2016-05-30","2016-06-06","2016-06-13","2016-06-20","2016-06-27","2016-07-04","2016-07-11","2016-07-18","2016-08-01","2016-08-08","2016-08-15","2016-08-22","2016-08-29","2016-09-05","2016-09-12","2016-09-19","2016-09-26","2016-10-03","2016-10-17","2016-10-24","2016-10-31","2016-11-07","2016-11-14","2016-11-28","2016-12-05","2016-12-12","2016-12-19","2017-01-09","2017-01-16","2017-01-23","2017-01-30","2017-02-13","2017-02-20","2017-02-27","2017-03-06","2017-03-13","2017-03-27","2017-04-03","2017-04-10","2017-04-17","2017-04-24","2017-05-08","2017-05-15","2017-05-22","2017-05-29","2017-06-12","2017-06-19","2017-06-26","2017-07-03","2017-07-21","2017-07-28","2017-08-04","2017-08-18","2017-08-25","2017-09-01","2017-09-15","2017-09-22","2017-09-29","2017-10-13","2017-10-20","2017-10-27","2017-11-10"]}},
  "x2":{"field":"d2"},
  "y":{"field":"v1","type":"quantitative","scale":{"domain":[35.6,56.21],"nice":false,"zero":false},"axis":null},
  "y2":{"field":"v2"},
  "stroke":{"condition":{"test":"datum.t == 'WTI crude - daily'","value":"#f08020"},"value":"transparent"}}},
{"data":{"name":"notes"},"mark":{"type":"text","font":"Liberation Serif","fontSize":18,"color":"#ff6a10","align":"center","baseline":"middle"},
 "encoding":{
  "x":{"field":"d","type":"ordinal","scale":{"type":"band","paddingInner":0,"paddingOuter":0},"axis":null},
  "y":{"field":"v","type":"quantitative","scale":{"domain":[35.6,56.21],"nice":false,"zero":false},"axis":null},
  "text":{"field":"t"}}},
{"data":{"name":"credit"},"mark":{"type":"text","font":"DejaVu Sans","fontSize":11,"color":"#ffffff","align":"right","baseline":"middle"},
 "encoding":{
  "x":{"field":"d","type":"ordinal","scale":{"type":"band","paddingInner":0,"paddingOuter":0},"axis":null},
  "y":{"field":"v","type":"quantitative","scale":{"domain":[35.6,56.21],"nice":false,"zero":false},"axis":null},
  "text":{"field":"t"}}}
]
}
